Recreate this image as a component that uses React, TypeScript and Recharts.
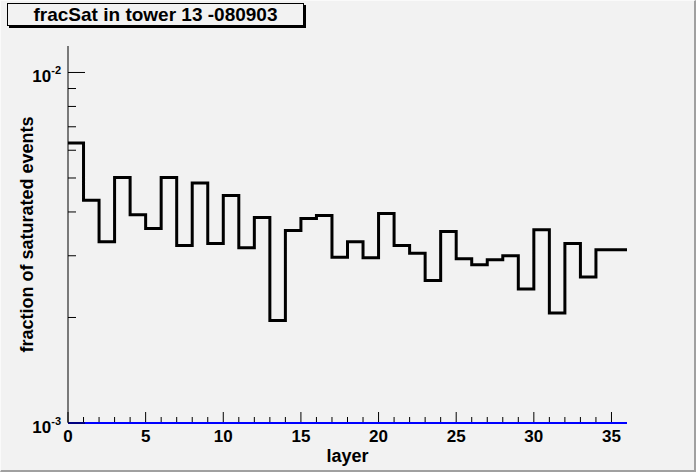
import { Line, LineChart, XAxis, YAxis } from "recharts";

const binStart = [
  0, 1, 2, 3, 4, 5, 6, 7, 8, 9, 10, 11, 12, 13, 14, 15, 16, 17,
  18, 19, 20, 21, 22, 23, 24, 25, 26, 27, 28, 29, 30, 31, 32, 33, 34, 35,
];
const fracSat = [
  0.00629, 0.00432, 0.00329, 0.00502, 0.00393, 0.00359, 0.00502, 0.00321,
  0.00484, 0.00325, 0.00446, 0.00316, 0.00386, 0.00196, 0.00354, 0.00383,
  0.00391, 0.00297, 0.00329, 0.00296, 0.00396, 0.00321, 0.00305, 0.00255,
  0.00352, 0.00294, 0.00283, 0.00292, 0.003, 0.00241, 0.00356, 0.00206,
  0.00325, 0.00261, 0.00312, 0.00312,
];
const xEnd = 36;
const xTicks = [0, 1, 2, 3, 4, 5, 6, 7, 8, 9, 10, 11, 12, 13, 14, 15, 16, 17,
  18, 19, 20, 21, 22, 23, 24, 25, 26, 27, 28, 29, 30, 31, 32, 33, 34, 35];
const xLabelled = [0, 5, 10, 15, 20, 25, 30, 35];
const yTicks = [0.001, 0.002, 0.003, 0.004, 0.005, 0.006, 0.007, 0.008, 0.009, 0.01];
const yLabelled: Record<number, string> = { 0.001: "-3", 0.01: "-2" };
const yMin = 0.001;
const yMax = 0.0119;

// stepAfter needs the closing edge of the last bin
const data = [
  ...binStart.map((x, i) => ({ x, frac: fracSat[i] })),
  { x: xEnd, frac: fracSat[fracSat.length - 1] },
];

const FONT = "'Liberation Sans', Arial, Helvetica, sans-serif";

function XTick(props: any) {
  const { x, y, payload } = props;
  const major = xLabelled.includes(payload.value);
  return (
    <g>
      <line x1={x} x2={x} y1={y - 1} y2={y - (major ? 11 : 6)} stroke="#000" />
      {major && (
        <text x={x} y={y + 19} textAnchor="middle" fontFamily={FONT} fontWeight="bold" fontSize={17} fill="#000">
          {payload.value}
        </text>
      )}
    </g>
  );
}

function YTick(props: any) {
  const { x, y, payload } = props;
  const exp = yLabelled[payload.value];
  return (
    <g>
      <line x1={x} x2={x + (exp ? 17 : 8)} y1={y} y2={y} stroke="#000" />
      {exp && (
        <text x={x - 7} y={y + 10} textAnchor="end" fontFamily={FONT} fontWeight="bold" fontSize={17} fill="#000">
          10
          <tspan dy={-8} fontSize={11}>{exp}</tspan>
        </text>
      )}
    </g>
  );
}

export default function App() {
  return (
    <div style={{ position: "fixed", left: 0, top: 0, width: 696, height: 472, background: "#f2f2f2" }}>
      <LineChart
        width={696}
        height={472}
        data={data}
        margin={{ top: 46, right: 69, bottom: 0, left: 0 }}
      >
        <XAxis
          dataKey="x"
          type="number"
          domain={[0, xEnd]}
          ticks={xTicks}
          interval={0}
          height={49}
          tickSize={0}
          tickMargin={0}
          tickLine={false}
          axisLine={{ stroke: "#0000ff", strokeWidth: 2 }}
          tick={<XTick />}
          label={{
            value: "layer",
            position: "insideBottom",
            offset: 10,
            fill: "#000",
            fontFamily: FONT,
            fontWeight: "bold",
            fontSize: 18,
          }}
        />
        <XAxis
          xAxisId="top"
          orientation="top"
          type="number"
          domain={[0, xEnd]}
          height={0}
          tick={false}
          tickLine={false}
          axisLine={{ stroke: "#000" }}
        />
        <YAxis
          type="number"
          scale="log"
          domain={[yMin, yMax]}
          allowDataOverflow
          ticks={yTicks}
          interval={0}
          width={68}
          tickSize={0}
          tickMargin={0}
          tickLine={false}
          axisLine={{ stroke: "#000" }}
          tick={<YTick />}
          label={{
            value: "fraction of saturated events",
            angle: -90,
            position: "insideLeft",
            offset: 27,
            fill: "#000",
            fontFamily: FONT,
            fontWeight: "bold",
            fontSize: 18,
            style: { textAnchor: "middle" },
          }}
        />
        <YAxis
          yAxisId="right"
          orientation="right"
          width={0}
          tick={false}
          tickLine={false}
          axisLine={{ stroke: "#000" }}
        />
        <Line
          type="stepAfter"
          dataKey="frac"
          stroke="#000"
          strokeWidth={3}
          dot={false}
          activeDot={false}
          isAnimationActive={false}
        />
      </LineChart>
      <div
        style={{
          position: "absolute",
          left: 7,
          top: 3,
          width: 295,
          height: 21,
          border: "1px solid #000",
          boxShadow: "2px 2px 0 #000",
          background: "#f2f2f2",
          fontFamily: FONT,
          fontWeight: "bold",
          fontSize: 19,
          lineHeight: "21px",
          textAlign: "center",
          color: "#000",
        }}
      >
        fracSat in tower 13 -080903
      </div>
      <div
        style={{
          position: "absolute",
          inset: 0,
          borderRight: "2px solid #a0a0a0",
          borderBottom: "2px solid #a0a0a0",
          borderLeft: "1px solid #fafafa",
          borderTop: "1px solid #fafafa",
          pointerEvents: "none",
        }}
      />
    </div>
  );
}
